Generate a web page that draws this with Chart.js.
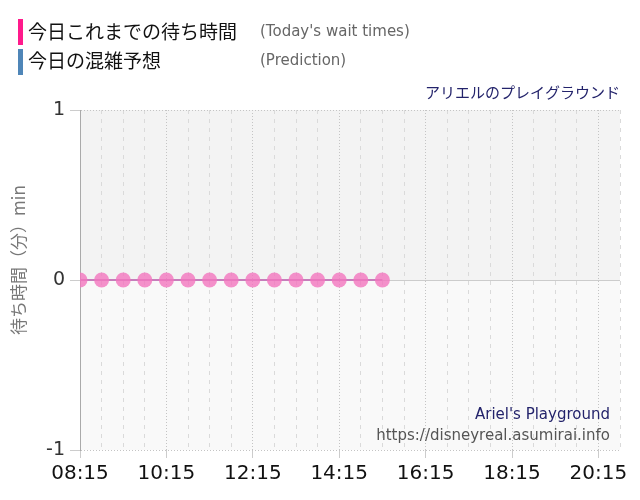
<!DOCTYPE html>
<html>
<head>
<meta charset="utf-8">
<script src="https://cdn.jsdelivr.net/npm/chart.js@4.4.0/dist/chart.umd.min.js"></script>
<style>
    html, body { margin: 0; padding: 0; background: #fff; }
</style>
</head>
<body>
<canvas id="waitChart" width="640" height="500"></canvas>
<script>
// data
var times = ['08:15', '08:45', '09:15', '09:45', '10:15', '10:45', '11:15', '11:45',
             '12:15', '12:45', '13:15', '13:45', '14:15', '14:45', '15:15'];
var waits = [0, 0, 0, 0, 0, 0, 0, 0, 0, 0, 0, 0, 0, 0, 0];
var xTickLabels = ['08:15', '10:15', '12:15', '14:15', '16:15', '18:15', '20:15'];
var yTickValues = [-1, 0, 1];
var xStart = '08:15';
var xEnd = '20:45';

function toMin(t) {
    var p = t.split(':');
    return parseInt(p[0], 10) * 60 + parseInt(p[1], 10);
}

function toLabel(m) {
    var h = Math.floor(m / 60), mm = m % 60;
    return (h < 10 ? '0' : '') + h + ':' + (mm < 10 ? '0' : '') + mm;
}

var points = [];
for (var i in times) {
    points.push({ x: toMin(times[i]), y: waits[i] });
}

var jpFont = '"Noto Sans CJK JP", sans-serif';
var latinFont = '"DejaVu Sans", sans-serif';

// background halves and the zero line
var backgroundPlugin = {
    id: 'background',
    beforeDraw: function (chart) {
        var c = chart.ctx, a = chart.chartArea, y = chart.scales.y;
        var zero = y.getPixelForValue(0);
        c.save();
        c.fillStyle = '#f3f3f3';
        c.fillRect(a.left, a.top, a.right - a.left, zero - a.top);
        c.fillStyle = '#f9f9f9';
        c.fillRect(a.left, zero, a.right - a.left, a.bottom - zero);
        c.restore();
    },
    beforeDatasetsDraw: function (chart) {
        var c = chart.ctx, a = chart.chartArea, y = chart.scales.y;
        var zero = Math.round(y.getPixelForValue(0)) + 0.5;
        c.save();
        c.strokeStyle = '#cccccc';
        c.lineWidth = 1;
        c.beginPath();
        c.moveTo(a.left - 10, zero);
        c.lineTo(a.right, zero);
        c.stroke();
        c.restore();
    }
};

// legend block, axis title, park name and credits
var textPlugin = {
    id: 'texts',
    afterDraw: function (chart) {
        var c = chart.ctx;
        c.save();
        c.fillStyle = '#ff1a8c';
        c.fillRect(18, 19, 5, 26);
        c.fillStyle = '#4f86b8';
        c.fillRect(18, 49, 5, 26);

        c.textBaseline = 'middle';
        c.textAlign = 'left';
        c.fillStyle = '#111';
        c.font = '19px ' + jpFont;
        c.fillText('今日これまでの待ち時間', 28, 32);
        c.fillText('今日の混雑予想', 28, 61);

        c.fillStyle = '#666';
        c.font = '15px ' + latinFont;
        c.fillText("(Today's wait times)", 260, 32);
        c.fillText('(Prediction)', 260, 61);

        c.textAlign = 'right';
        c.fillStyle = '#23236b';
        c.font = '15px ' + jpFont;
        c.fillText('アリエルのプレイグラウンド', 620, 92);

        c.font = '15px ' + latinFont;
        c.fillText("Ariel's Playground", 610, 415);
        c.fillStyle = '#555';
        c.fillText('https://disneyreal.asumirai.info', 610, 436);

        // rotated y axis title
        c.translate(19, 260);
        c.rotate(-Math.PI / 2);
        c.textAlign = 'center';
        c.fillStyle = '#777';
        c.font = '17px ' + jpFont;
        c.fillText('待ち時間（分）min', 0, 0);
        c.restore();
    }
};

var ctx = document.getElementById('waitChart');

var waitChart = new Chart(ctx, {
    type: 'line',
    data: {
        datasets: [
            {
                label: '今日これまでの待ち時間',
                data: points,
                borderColor: '#c77dbb',
                borderWidth: 2,
                pointRadius: 7.5,
                pointHoverRadius: 7.5,
                pointBackgroundColor: 'rgba(242, 118, 190, 0.8)',
                pointBorderWidth: 0,
                fill: false,
                tension: 0
            }
        ]
    },
    options: {
        responsive: false,
        animation: false,
        devicePixelRatio: 1,
        layout: { padding: { top: 110, left: 6, right: 20, bottom: 0 } },
        plugins: {
            legend: { display: false },
            tooltip: { enabled: false }
        },
        scales: {
            x: {
                type: 'linear',
                position: 'bottom',
                min: toMin(xStart),
                max: toMin(xEnd),
                afterBuildTicks: function (s) {
                    s.ticks = xTickLabels.map(function (t) { return { value: toMin(t) }; });
                },
                afterFit: function (s) { s.height = 50; },
                ticks: {
                    autoSkip: false,
                    maxRotation: 0,
                    padding: 4,
                    color: '#111',
                    font: { family: latinFont, size: 20 },
                    callback: function (v) { return toLabel(v); }
                },
                grid: { color: '#c4c4c4', tickColor: '#cccccc', tickLength: 8 },
                border: { display: false, dash: [1, 2] }
            },
            xMinor: {
                type: 'linear',
                position: 'bottom',
                min: toMin(xStart),
                max: toMin(xEnd),
                afterBuildTicks: function (s) {
                    var list = [];
                    for (var m = toMin(xStart); m <= toMin(xEnd); m += 30) {
                        list.push({ value: m });
                    }
                    s.ticks = list;
                },
                afterFit: function (s) { s.height = 0; },
                ticks: { display: false },
                grid: {
                    drawTicks: false,
                    color: function (c) {
                        return (c.tick && (c.tick.value - toMin(xStart)) % 120 === 0) ? 'transparent' : '#dadada';
                    }
                },
                border: { display: false, dash: [4, 5] }
            },
            y: {
                min: -1,
                max: 1,
                afterBuildTicks: function (s) {
                    s.ticks = yTickValues.map(function (v) { return { value: v }; });
                },
                afterFit: function (s) { s.width = 74; },
                ticks: {
                    padding: 5,
                    color: '#333',
                    font: { family: latinFont, size: 19 }
                },
                grid: {
                    color: function (c) {
                        return (c.tick && c.tick.value === 0) ? 'transparent' : '#c4c4c4';
                    },
                    tickColor: '#cccccc',
                    tickLength: 10
                },
                border: { color: '#aaaaaa', dash: [1, 2] },
                title: { display: false }
            }
        }
    },
    plugins: [backgroundPlugin, textPlugin]
});
</script>
</body>
</html>
